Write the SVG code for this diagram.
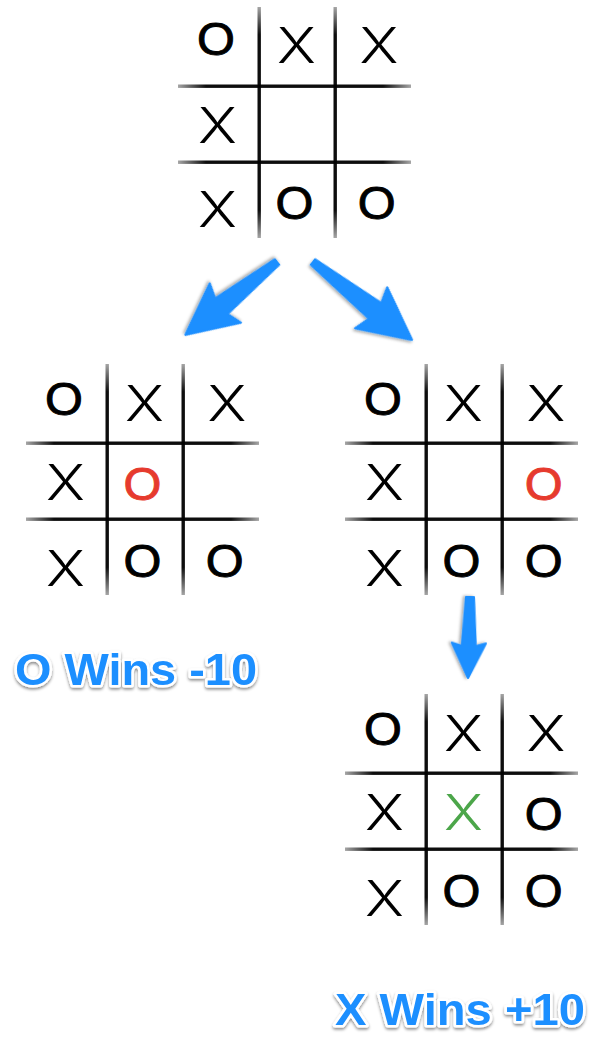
<svg xmlns="http://www.w3.org/2000/svg" xmlns:xlink="http://www.w3.org/1999/xlink" width="594" height="1041" viewBox="0 0 594 1041">
<style>
  .o { font-family: "Liberation Sans", Arial, sans-serif; font-size: 46px; text-anchor: middle; fill: #000; stroke: #000; stroke-width: 0.9px; }
  .x { font-family: Inter, "Liberation Sans", Arial, sans-serif; font-weight: 300; font-size: 49px; text-anchor: middle; fill: #000; }
  .red { fill: #E63A2E; stroke: #E63A2E; }
  .green { fill: #4CA64A; }
  .label { font-family: "Liberation Sans", Arial, sans-serif; font-weight: bold; font-size: 44px; fill: #1E8FFF; stroke: #fff; stroke-width: 5px; stroke-linejoin: round; paint-order: stroke; filter: url(#tshadow); }
  .arrow { fill: #1E8FFF; stroke: #1E8FFF; stroke-width: 2; stroke-linejoin: round; filter: url(#ashadow); }
  .hl { fill: url(#hgrad); }
  .vl { fill: url(#vgrad); }
</style>
<defs>
  <linearGradient id="hgrad" x1="0" y1="0" x2="1" y2="0">
    <stop offset="0" stop-color="#000" stop-opacity="0.35"/>
    <stop offset="0.12" stop-color="#000" stop-opacity="0.95"/>
    <stop offset="0.88" stop-color="#000" stop-opacity="0.95"/>
    <stop offset="1" stop-color="#000" stop-opacity="0.35"/>
  </linearGradient>
  <linearGradient id="vgrad" x1="0" y1="0" x2="0" y2="1">
    <stop offset="0" stop-color="#000" stop-opacity="0.35"/>
    <stop offset="0.12" stop-color="#000" stop-opacity="0.95"/>
    <stop offset="0.88" stop-color="#000" stop-opacity="0.95"/>
    <stop offset="1" stop-color="#000" stop-opacity="0.35"/>
  </linearGradient>
  <filter id="ashadow" x="-20%" y="-20%" width="140%" height="150%">
    <feDropShadow dx="0" dy="2" stdDeviation="1.5" flood-color="#000" flood-opacity="0.35"/>
  </filter>
  <filter id="tshadow" x="-10%" y="-30%" width="120%" height="160%">
    <feDropShadow dx="0" dy="2" stdDeviation="1.5" flood-color="#000" flood-opacity="0.45"/>
  </filter>
  <g id="grid">
    <rect class="hl" x="0" y="77.5" width="233" height="3.4"/>
    <rect class="hl" x="0" y="153.5" width="233" height="3.4"/>
    <rect class="vl" x="79.5" y="0" width="3.4" height="231"/>
    <rect class="vl" x="155.5" y="0" width="3.4" height="231"/>
  </g>
</defs>
<rect width="594" height="1041" fill="#fff"/>

<g id="connectors">
  <path class="arrow" transform="translate(277,262) rotate(141.5)" d="M0,-3.5 L71,-10 L66,-25 L117,0 L66,25 L71,10 L0,3.5 Z"/>
  <path class="arrow" transform="translate(313,262) rotate(38.2)" d="M0,-3.5 L79,-10 L74,-26 L126,0 L74,26 L79,10 L0,3.5 Z"/>
  <path class="arrow" transform="translate(470,597) rotate(91.4)" d="M0,-4 L49,-7 L46,-17 L81,0 L46,17 L49,7 L0,4 Z"/>
</g>

<g id="board-root" transform="translate(178,7)">
  <use xlink:href="#grid" href="#grid"/>
  <text class="o" transform="translate(38,48) scale(1.06,1)">O</text>
  <text class="x" transform="translate(118.5,56) scale(1.2,1)">X</text>
  <text class="x" transform="translate(201,56) scale(1.2,1)">X</text>
  <text class="x" transform="translate(39.5,136) scale(1.2,1)">X</text>
  <text class="x" transform="translate(39.5,220) scale(1.2,1)">X</text>
  <text class="o" transform="translate(116.5,211.5) scale(1.06,1)">O</text>
  <text class="o" transform="translate(198.7,211.5) scale(1.06,1)">O</text>
</g>

<g id="board-left" transform="translate(26,364)">
  <use xlink:href="#grid" href="#grid"/>
  <text class="o" transform="translate(38,51) scale(1.06,1)">O</text>
  <text class="x" transform="translate(118.5,56.5) scale(1.2,1)">X</text>
  <text class="x" transform="translate(201,56.5) scale(1.2,1)">X</text>
  <text class="x" transform="translate(39.5,136) scale(1.2,1)">X</text>
  <text class="o red" transform="translate(116.5,135.5) scale(1.06,1)">O</text>
  <text class="x" transform="translate(39.5,222) scale(1.2,1)">X</text>
  <text class="o" transform="translate(116.5,213) scale(1.06,1)">O</text>
  <text class="o" transform="translate(198.7,213) scale(1.06,1)">O</text>
</g>

<g id="board-right" transform="translate(345,364)">
  <use xlink:href="#grid" href="#grid"/>
  <text class="o" transform="translate(38,51) scale(1.06,1)">O</text>
  <text class="x" transform="translate(118.5,56.5) scale(1.2,1)">X</text>
  <text class="x" transform="translate(201,56.5) scale(1.2,1)">X</text>
  <text class="x" transform="translate(39.5,136) scale(1.2,1)">X</text>
  <text class="o red" transform="translate(198.7,135.5) scale(1.06,1)">O</text>
  <text class="x" transform="translate(39.5,222) scale(1.2,1)">X</text>
  <text class="o" transform="translate(116.5,213) scale(1.06,1)">O</text>
  <text class="o" transform="translate(198.7,213) scale(1.06,1)">O</text>
</g>

<g id="board-bottom" transform="translate(345,694)">
  <use xlink:href="#grid" href="#grid"/>
  <text class="o" transform="translate(38,51) scale(1.06,1)">O</text>
  <text class="x" transform="translate(118.5,56.5) scale(1.2,1)">X</text>
  <text class="x" transform="translate(201,56.5) scale(1.2,1)">X</text>
  <text class="x" transform="translate(39.5,136) scale(1.2,1)">X</text>
  <text class="x green" transform="translate(118.5,136) scale(1.2,1)">X</text>
  <text class="o" transform="translate(198.7,135.5) scale(1.06,1)">O</text>
  <text class="x" transform="translate(39.5,222) scale(1.2,1)">X</text>
  <text class="o" transform="translate(116.5,213) scale(1.06,1)">O</text>
  <text class="o" transform="translate(198.7,213) scale(1.06,1)">O</text>
</g>

<g id="label-o-wins">
  <text class="label" x="15" y="685" textLength="242" lengthAdjust="spacingAndGlyphs">O Wins -10</text>
</g>
<g id="label-x-wins">
  <text class="label" x="335" y="1025" textLength="250" lengthAdjust="spacingAndGlyphs">X Wins +10</text>
</g>
</svg>
